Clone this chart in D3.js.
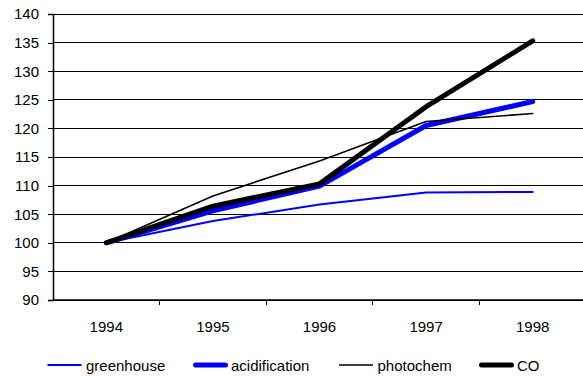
<!DOCTYPE html>
<html>
<head>
<meta charset="utf-8">
<script src="https://cdn.jsdelivr.net/npm/d3@7"></script>
<style>
  html, body { margin: 0; padding: 0; background: #fff; }
  svg { display: block; font-family: "Liberation Sans", Arial, sans-serif; }
</style>
</head>
<body>
<svg id="chart" width="583" height="376"></svg>
<script>
// Index values (1994 = 100)
const years = ["1994", "1995", "1996", "1997", "1998"];
const greenhouse = [100, 103.8, 106.7, 108.8, 108.9];
const acidification = [100, 105.6, 109.9, 120.5, 124.7];
const photochem = [100, 108.2, 114.3, 121.2, 122.6];
const CO = [100, 106.4, 110.3, 123.8, 135.3];
const yTicks = [90, 95, 100, 105, 110, 115, 120, 125, 130, 135, 140];

const seriesList = [
  { name: "greenhouse", values: greenhouse, color: "#0000ff", width: 2 },
  { name: "acidification", values: acidification, color: "#0000ff", width: 5 },
  { name: "photochem", values: photochem, color: "#000000", width: 1.6 },
  { name: "CO", values: CO, color: "#000000", width: 5 }
];

const fontSize = 15;
const svg = d3.select("#chart");
const plotLeft = 53, plotRight = 586, plotTop = 14, plotBottom = 300;

const x = d3.scaleBand().domain(years).range([plotLeft, plotRight]);
const y = d3.scaleLinear().domain([90, 140]).range([plotBottom, plotTop]);

// horizontal gridlines
svg.append("g")
  .selectAll("line")
  .data(yTicks)
  .join("line")
  .attr("x1", plotLeft).attr("x2", plotRight)
  .attr("y1", d => y(d)).attr("y2", d => y(d))
  .attr("stroke", "#000").attr("stroke-width", 1)
  .attr("shape-rendering", "crispEdges");

// y axis
const yAxis = svg.append("g")
  .attr("transform", `translate(${plotLeft},0)`)
  .call(d3.axisLeft(y).tickValues(yTicks).tickSize(5).tickPadding(9).tickFormat(d3.format("d")));
yAxis.select(".domain").attr("stroke", "#000").attr("stroke-width", 1.5);
yAxis.selectAll(".tick line").attr("stroke", "#000").attr("shape-rendering", "crispEdges");
yAxis.selectAll("text").attr("font-size", fontSize).attr("fill", "#000")
  .attr("font-family", "Liberation Sans, Arial, sans-serif");

// x axis: ticks sit between categories
const xAxisG = svg.append("g").attr("transform", `translate(0,${plotBottom})`);
xAxisG.append("line")
  .attr("x1", plotLeft).attr("x2", plotRight).attr("y1", 0).attr("y2", 0)
  .attr("stroke", "#000").attr("stroke-width", 1.5);
xAxisG.selectAll(".xt")
  .data(years)
  .join("line")
  .attr("class", "xt")
  .attr("x1", d => x(d) + x.bandwidth()).attr("x2", d => x(d) + x.bandwidth())
  .attr("y1", 0).attr("y2", 5)
  .attr("stroke", "#000").attr("shape-rendering", "crispEdges");
xAxisG.selectAll(".xl")
  .data(years)
  .join("text")
  .attr("class", "xl")
  .attr("x", d => x(d) + x.bandwidth() / 2)
  .attr("y", 31.5)
  .attr("text-anchor", "middle")
  .attr("font-size", fontSize)
  .text(d => d);

// series lines
const line = d3.line()
  .x((d, i) => x(years[i]) + x.bandwidth() / 2)
  .y(d => y(d));

svg.append("g")
  .selectAll("path")
  .data(seriesList)
  .join("path")
  .attr("d", s => line(s.values))
  .attr("fill", "none")
  .attr("stroke", s => s.color)
  .attr("stroke-width", s => s.width)
  .attr("stroke-linejoin", "round")
  .attr("stroke-linecap", "round");

// legend
const legendX = [47.5, 193.5, 339, 479.5];
const legendY = 365;
const lg = svg.append("g")
  .selectAll("g")
  .data(seriesList)
  .join("g")
  .attr("transform", (s, i) => `translate(${legendX[i]},${legendY})`);
lg.append("line")
  .attr("x1", s => s.width > 3 ? 2 : 0)
  .attr("x2", s => s.width > 3 ? 32 : 34)
  .attr("y1", 0).attr("y2", 0)
  .attr("stroke", s => s.color)
  .attr("stroke-width", s => s.width)
  .attr("stroke-linecap", s => s.width > 3 ? "round" : "butt");
lg.append("text")
  .attr("x", s => s.width > 3 ? 37.5 : 38.5)
  .attr("y", 5.5)
  .attr("font-size", fontSize)
  .text(s => s.name);
</script>
</body>
</html>
